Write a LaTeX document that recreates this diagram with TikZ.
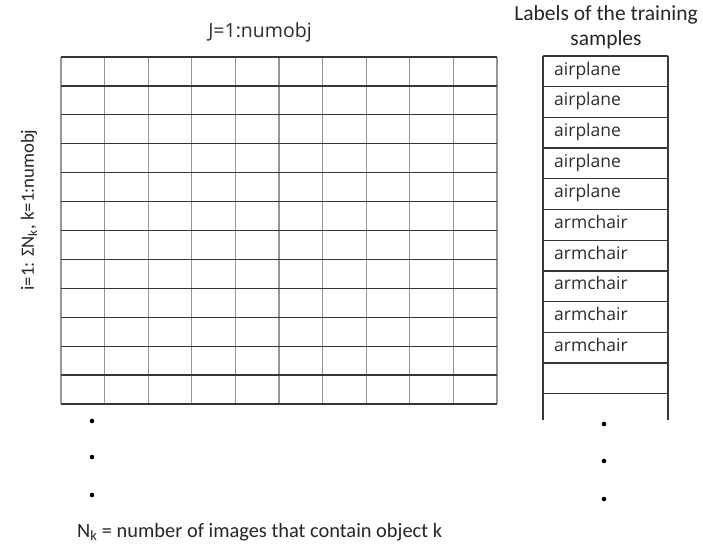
\documentclass[tikz,border=0pt]{standalone}
\usepackage{fontspec}
\setmainfont{Open Sans}
\newfontfamily\calfont{Carlito}
\usetikzlibrary{positioning}
\definecolor{rowline}{RGB}{55,55,55}
\definecolor{colline}{RGB}{150,150,150}
\definecolor{txtgray}{RGB}{45,45,45}
\tikzset{
  hl/.style={draw=rowline,line width=1.3pt},
  vl/.style={draw=colline,line width=1.3pt},
  txt/.style={inner sep=0pt,text=txtgray,font=\fontsize{17.5}{23}\selectfont},
  ctxt/.style={inner sep=0pt,text=black!85,font=\calfont\fontsize{21.5}{25}\selectfont},
  lbl/.style={txt,anchor=base west},
  dotmark/.style={circle,fill=black,inner sep=0pt,minimum size=4.6pt},
}
\begin{document}
\begin{tikzpicture}[x=1pt,y=-1pt]
  \path[use as bounding box,fill=white] (0,0) rectangle (703,550);
  % data matrix: 12 rows x 10 columns
  \foreach \c in {0,...,10}
    \draw[vl] (61+\c*43.6,57) -- (61+\c*43.6,404);
  \foreach \r in {0,...,12}
    \draw[hl] (61,57+\r*28.92) -- (497,57+\r*28.92);
  % label column, open at the bottom
  \draw[hl] (543,56) -- (543,420);
  \draw[hl] (668,56) -- (668,420);
  \foreach \r in {0,...,11}
    \draw[hl] (543,56+\r*30.7) -- (668,56+\r*30.7);
  \foreach \t [count=\i] in {airplane,airplane,airplane,airplane,airplane,
                             armchair,armchair,armchair,armchair,armchair}
    \node[lbl] (lab\i) at (554,44.3+\i*30.7) {\t};
  \node[txt,font=\fontsize{19.5}{23}\selectfont] (cols) at (260,32) {J=1:numobj};
  \node[ctxt,align=center] (head) at (606,27) {Labels of the training\\samples};
  \node[ctxt,rotate=90,font=\calfont\fontsize{18.7}{24}\selectfont] (rows) at (29,210) {i=1: ΣN\textsubscript{k},  k=1:numobj};
  % continuation dots
  \node[dotmark] (rd1) at (92,421) {};
  \node[dotmark] (rd2) at (92,457) {};
  \node[dotmark] (rd3) at (92,495) {};
  \node[dotmark] (ld1) at (604,424) {};
  \node[dotmark] (ld2) at (604,461) {};
  \node[dotmark] (ld3) at (604,499) {};
  \node[ctxt,anchor=base west,font=\calfont\fontsize{20.4}{24}\selectfont] (note) at (77,537) {N\textsubscript{k} = number of images that contain object k};
\end{tikzpicture}
\end{document}
